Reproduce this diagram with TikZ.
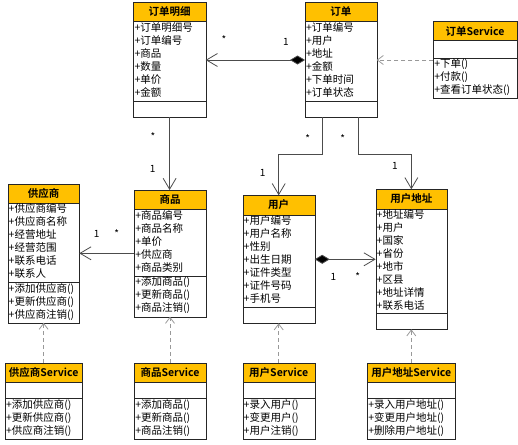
\documentclass[tikz,border=0pt]{standalone}
\usepackage{fontspec}
\setmainfont{Noto Sans CJK SC}[BoldFont={Noto Sans CJK SC Bold}]
\usetikzlibrary{arrows.meta,calc}
\definecolor{umlgold}{HTML}{FFC000}
\tikzset{
	umlhead/.style={draw=black!85, fill=umlgold, font=\bfseries\fontsize{10.5}{12}\selectfont, inner sep=0pt, outer sep=0pt, anchor=north west},
	umlbox/.style={draw=black!85, fill=white, inner sep=0pt, outer sep=0pt, anchor=north west},
	umltext/.style={font=\fontsize{10.5}{13}\selectfont, align=left, inner sep=0.8pt, anchor=north west},
	assoc/.style={draw=black!70, line width=0.8pt, -{Straight Barb[length=11pt,width=13pt]}},
	compo/.style={assoc, {Diamond[length=15pt,width=9pt,fill=black]}-{Straight Barb[length=11pt,width=13pt]}},
	depend/.style={draw=black!40, line width=0.8pt, dash pattern=on 4pt off 3pt, -{Straight Barb[length=6pt,width=9pt]}},
	mult/.style={font=\fontsize{10}{12}\selectfont, inner sep=0pt, anchor=base},
}
% #1 name, #2 top left, #3 width, #4 #5 #6 heights, #7 title, #8 attributes, #9 operations
\def\umlclass#1#2#3#4#5#6#7#8#9{
	\node[umlhead, minimum width=#3pt, minimum height=#4pt] (#1) at (#2) {#7};
	\node[umlbox, minimum width=#3pt, minimum height=#5pt] (#1-a) at (#1.south west) {};
	\node[umlbox, minimum width=#3pt, minimum height=#6pt] (#1-m) at (#1-a.south west) {};
	\node[umltext] (#1-at) at (#1-a.north west) {#8};
	\node[umltext] (#1-mt) at (#1-m.north west) {#9};
}

\begin{document}
\begin{tikzpicture}[x=1pt, y=-1pt]
	\useasboundingbox (0,0) rectangle (518,444);
	
	%%%%% classes %%%%%
	\umlclass{ddmx}{133.5,2.3}{72.2}{19.4}{79}{16.6}{订单明细}
		{+订单明细号\\+订单编号\\+商品\\+数量\\+单价\\+金额}{}
	\umlclass{dd}{305,2.3}{71.7}{19.4}{79}{16.6}{订单}
		{+订单编号\\+用户\\+地址\\+金额\\+下单时间\\+订单状态}{}
	\umlclass{dds}{433.3,21.7}{83.4}{19}{17}{40.6}{订单Service}
		{}{+下单()\\+付款()\\+查看订单状态()}
	
	\umlclass{gys}{7.7,184}{71.6}{18.7}{79.6}{40.4}{供应商}
		{+供应商编号\\+供应商名称\\+经营地址\\+经营范围\\+联系电话\\+联系人}
		{+添加供应商()\\+更新供应商()\\+供应商注销()}
	\umlclass{sp}{134.3,190}{71.4}{19.3}{66.4}{41}{商品}
		{+商品编号\\+商品名称\\+单价\\+供应商\\+商品类别}
		{+添加商品()\\+更新商品()\\+商品注销()}
	\umlclass{yh}{242.7,195.3}{72}{19.4}{92}{16.6}{用户}
		{+用户编号\\+用户名称\\+性别\\+出生日期\\+证件类型\\+证件号码\\+手机号}{}
	\umlclass{yhdz}{375.7,189.3}{71.3}{19.4}{104}{16.6}{用户地址}
		{+地址编号\\+用户\\+国家\\+省份\\+地市\\+区县\\+地址详情\\+联系电话}{}
	
	\umlclass{gyss}{5,362.7}{77.3}{19}{16.6}{40.7}{供应商Service}
		{}{+添加供应商()\\+更新供应商()\\+供应商注销()}
	\umlclass{sps}{134.3,362.7}{71.4}{19}{16.6}{40.7}{商品Service}
		{}{+添加商品()\\+更新商品()\\+商品注销()}
	\umlclass{yhs}{242.7,362.7}{72}{19}{16.6}{40.7}{用户Service}
		{}{+录入用户()\\+变更用户()\\+用户注销()}
	\umlclass{yhdzs}{367.3,362.7}{88}{19}{16.6}{40.7}{用户地址Service}
		{}{+录入用户地址()\\+变更用户地址()\\+删除用户地址()}
	
	%%%%% associations %%%%%
	\coordinate (bend) at (0,154.3);
	\coordinate (dd-l) at ([xshift=-18pt]dd-m.south);
	\coordinate (dd-r) at ([xshift=18pt]dd-m.south);
	
	\draw[compo] (dd-a.west |- 0,60) -- (ddmx-a.east |- 0,60);
	\draw[assoc] (ddmx-m.south) -- (ddmx-m.south |- sp.north);
	\draw[assoc] (sp-a.west |- 0,253.3) -- (gys-a.east |- 0,253.3);
	\draw[assoc] (dd-l) -- (dd-l |- bend) -| (yh.north);
	\draw[assoc] (dd-r) -- (dd-r |- bend) -| (yhdz.north);
	\draw[compo] (yh-a.east |- 0,259.3) -- (yhdz-a.west |- 0,259.3);
	
	\node[mult] (m-ddmx) at (224,44) {*};
	\node[mult] (m-dd) at (286,45.6) {1};
	\node[mult] (m-ddmx2) at (153,140.3) {*};
	\node[mult] (m-sp) at (152.7,172.9) {1};
	\node[mult] (m-gys) at (96.7,237.9) {1};
	\node[mult] (m-sp2) at (116.7,237) {*};
	\node[mult] (m-dd2) at (307.7,142) {*};
	\node[mult] (m-yh) at (262.7,176.3) {1};
	\node[mult] (m-dd3) at (342.7,142) {*};
	\node[mult] (m-yhdz) at (395,169.6) {1};
	\node[mult] (m-yh2) at (333.3,280.3) {1};
	\node[mult] (m-yhdz2) at (357.7,280.3) {*};
	
	%%%%% dependencies %%%%%
	\draw[depend] (dds-m.west |- 0,60) -- (dd-a.east |- 0,60);
	\draw[depend] (gyss.north) -- (gyss.north |- gys-m.south);
	\draw[depend] (sps.north) -- (sps.north |- sp-m.south);
	\draw[depend] (yhs.north) -- (yhs.north |- yh-m.south);
	\draw[depend] (yhdzs.north) -- (yhdzs.north |- yhdz-m.south);
\end{tikzpicture}
\end{document}
